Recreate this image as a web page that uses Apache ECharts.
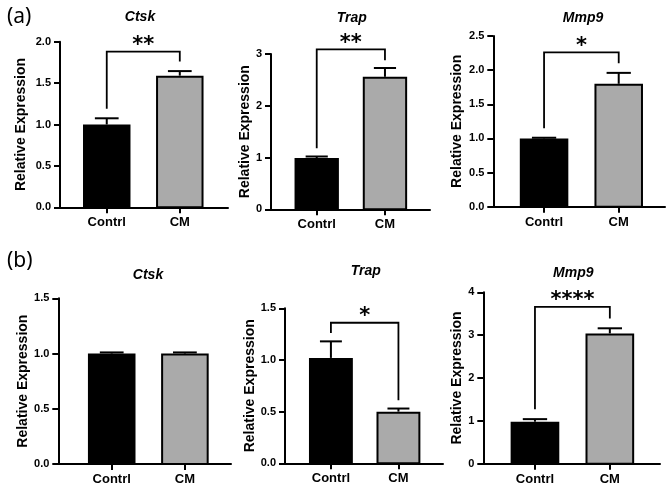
<!DOCTYPE html>
<html>
<head>
<meta charset="utf-8">
<script src="https://cdn.jsdelivr.net/npm/echarts@6/dist/echarts.min.js"></script>
<style>
  html, body { margin: 0; padding: 0; background: #fff; }
  #chart { width: 668px; height: 486px; }
</style>
</head>
<body>
<div id="chart"></div>
<script>
// ---- data ----
const categories = ['Contrl', 'CM'];
const geneNames = ['Ctsk', 'Trap', 'Mmp9', 'Ctsk', 'Trap', 'Mmp9'];
const panelLetters = ['(a)', '(b)'];
const contrlMeans = [1.00, 0.99, 1.00, 1.00, 1.02, 0.98];
const contrlErrTops = [1.075, 1.02, 1.01, 1.01, 1.18, 1.04];
const cmMeans = [1.59, 2.56, 1.80, 1.00, 0.50, 3.04];
const cmErrTops = [1.645, 2.73, 1.96, 1.01, 0.53, 3.16];
const yMax = [2, 3, 2.5, 1.5, 1.5, 4];
const yStep = [0.5, 1, 0.5, 0.5, 0.5, 1];
// significance brackets: [top, left leg end, right leg end]
const bracketLevels = [[1.88, 1.19, 1.76], [3.09, 1.18, 2.88], [2.26, 1.15, 2.10], null, [1.36, 1.26, 0.61], [3.66, 1.27, 3.39]];
const bracketStars = ['**', '**', '*', '', '*', '****'];

// ---- layout (px) ----
const FONT = "'Liberation Sans', Arial, sans-serif";
const BAR_W = 0.65;
const layout = [
  { x0: 60, x1: 228, y0: 41.7, y1: 207.3, padL: 0.64, padR: 0.66, nameGap: 32, title: [140, 17] },
  { x0: 271, x1: 430, y0: 54, y1: 209.3, padL: 0.67, padR: 0.66, nameGap: 18, title: [351.7, 18] },
  { x0: 493.3, x1: 665, y0: 36, y1: 206.7, padL: 0.68, padR: 0.62, nameGap: 29, title: [583, 18] },
  { x0: 58.3, x1: 231, y0: 298.3, y1: 464.3, padL: 0.73, padR: 0.63, nameGap: 25, title: [148, 275] },
  { x0: 285, x1: 443, y0: 308.3, y1: 463.3, padL: 0.68, padR: 0.66, nameGap: 28, title: [365.7, 271] },
  { x0: 483.3, x1: 660, y0: 292.3, y1: 463.7, padL: 0.69, padR: 0.67, nameGap: 19, title: [573.3, 273.3] }
];
const letterPos = [[7, 7], [7, 251]];

const chart = echarts.init(document.getElementById('chart'));

const grids = [], xAxes = [], yAxes = [], series = [], graphics = [];

layout.forEach((L, i) => {
  grids.push({ left: L.x0, top: L.y0, width: L.x1 - L.x0, height: L.y1 - L.y0, containLabel: false });

  xAxes.push({
    type: 'value', gridIndex: i,
    min: 1 - L.padL, max: 2 + L.padR,
    axisLine: { show: true, onZero: false, lineStyle: { color: '#000', width: 2 } },
    axisTick: { show: true, customValues: [1, 2], length: 6, lineStyle: { color: '#000', width: 2 } },
    axisLabel: {
      customValues: [1, 2], margin: 9,
      formatter: v => categories[Math.round(v) - 1],
      color: '#000', fontFamily: FONT, fontWeight: 'bold', fontSize: 13
    },
    splitLine: { show: false }
  });

  yAxes.push({
    type: 'value', gridIndex: i,
    min: 0, max: yMax[i], interval: yStep[i],
    name: 'Relative Expression', nameLocation: 'middle', nameRotate: 90, nameGap: L.nameGap,
    nameTextStyle: { color: '#000', fontFamily: FONT, fontWeight: 'bold', fontSize: 14 },
    axisLine: { show: true, lineStyle: { color: '#000', width: 2 } },
    axisTick: { show: true, length: 6, lineStyle: { color: '#000', width: 2 } },
    axisLabel: {
      margin: 9, color: '#000', fontFamily: FONT, fontWeight: 'bold', fontSize: 11,
      formatter: v => yStep[i] < 1 ? v.toFixed(1) : String(v)
    },
    splitLine: { show: false }
  });

  series.push({
    type: 'custom', xAxisIndex: i, yAxisIndex: i,
    data: [[1, contrlMeans[i], contrlErrTops[i], 0], [2, cmMeans[i], cmErrTops[i], 1]],
    encode: { x: 0, y: 1 },
    renderItem: (params, api) => {
      const x = api.value(0), m = api.value(1), e = api.value(2);
      const tl = api.coord([x - BAR_W / 2, m]);
      const br = api.coord([x + BAR_W / 2, 0]);
      const top = api.coord([x, e]);
      const capL = api.coord([x - BAR_W / 4, e]);
      const capR = api.coord([x + BAR_W / 4, e]);
      return {
        type: 'group',
        children: [
          { type: 'line', shape: { x1: top[0], y1: tl[1], x2: top[0], y2: top[1] }, style: { stroke: '#000', lineWidth: 2 } },
          { type: 'line', shape: { x1: capL[0], y1: capL[1], x2: capR[0], y2: capR[1] }, style: { stroke: '#000', lineWidth: 2 } },
          {
            type: 'rect',
            shape: { x: tl[0] + 1, y: tl[1] + 1, width: br[0] - tl[0] - 2, height: br[1] - tl[1] - 1 },
            style: { fill: api.value(3) === 0 ? '#000' : '#aaaaaa', stroke: '#000', lineWidth: 2 }
          }
        ]
      };
    }
  });

  if (bracketLevels[i]) {
    const b = bracketLevels[i];
    series.push({
      type: 'custom', xAxisIndex: i, yAxisIndex: i, clip: false,
      data: [[1, 2, b[0], b[1], b[2]]],
      encode: { x: [0, 1], y: 2 },
      renderItem: (params, api) => {
        const a = api.coord([api.value(0), api.value(3)]);
        const at = api.coord([api.value(0), api.value(2)]);
        const bt = api.coord([api.value(1), api.value(2)]);
        const bb = api.coord([api.value(1), api.value(4)]);
        return {
          type: 'group',
          children: [
            { type: 'polyline', shape: { points: [a, at, bt, bb] }, style: { stroke: '#000', lineWidth: 1.8, fill: null } },
            {
              type: 'text',
              style: {
                text: bracketStars[i], x: (at[0] + bt[0]) / 2, y: at[1] - 6,
                align: 'center', verticalAlign: 'middle',
                font: "bold 21px 'DejaVu Sans'", fill: '#000'
              }
            }
          ]
        };
      }
    });
  }

  graphics.push({
    type: 'text', x: L.title[0], y: L.title[1],
    style: {
      text: geneNames[i], align: 'center', verticalAlign: 'middle',
      font: 'italic bold 14px ' + FONT, fill: '#000'
    }
  });
});

panelLetters.forEach((t, k) => {
  graphics.push({
    type: 'text', x: letterPos[k][0], y: letterPos[k][1],
    style: { text: t, font: "21px 'Noto Sans'", fill: '#000' }
  });
});

chart.setOption({
  backgroundColor: '#fff',
  animation: false,
  grid: grids,
  xAxis: xAxes,
  yAxis: yAxes,
  series: series,
  graphic: graphics
});
</script>
</body>
</html>
